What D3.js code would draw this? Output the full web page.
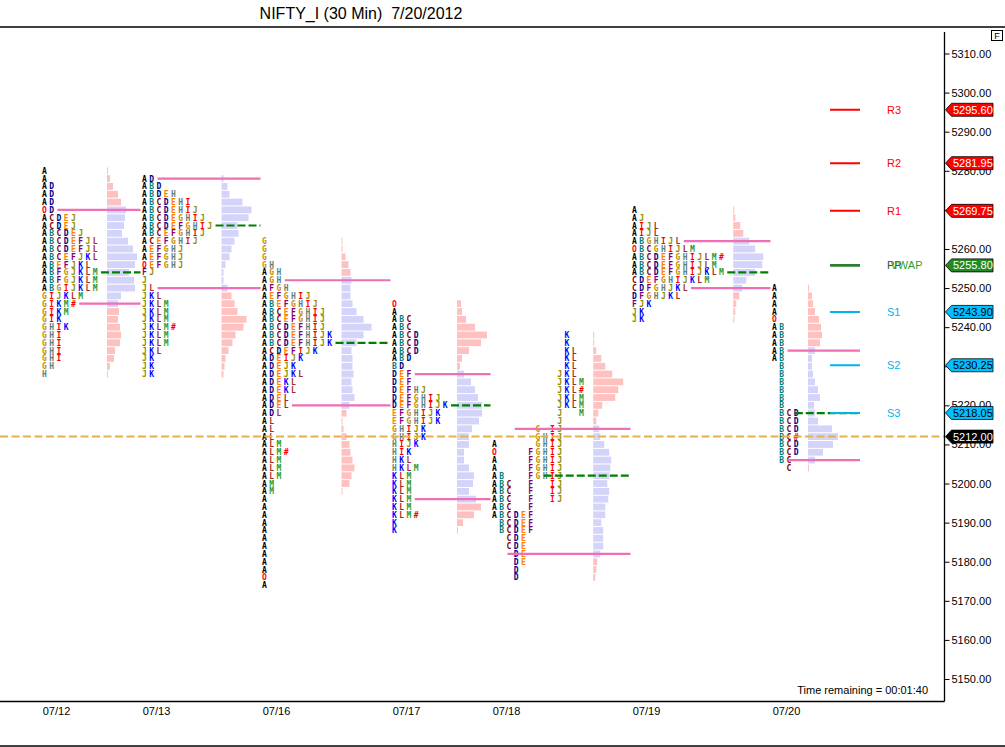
<!DOCTYPE html>
<html><head><meta charset="utf-8">
<script src="https://cdn.jsdelivr.net/npm/d3@7"></script>
<style>html,body{margin:0;padding:0;background:#fff;} svg{display:block;}</style>
</head><body>
<svg id="c" width="1005" height="747"></svg>
<script>
// ---------------- DATA ----------------
const title = "NIFTY_I (30 Min)  7/20/2012";
const days = ["07/12","07/13","07/16","07/17","07/18","07/19","07/20"];
// position of each session on the bar axis (30-min bar index)
const dayStartBar = [0, 10, 22, 35, 45, 59, 73];
const chartEndBar = 81.8;
// highest TPO price of each profile (rows step 2 points downward)
const topPrice = [5280, 5278, 5262, 5246, 5238, 5270, 5250];
const vahPrice = [5270, 5278, 5252, 5228, 5214, 5262, 5234];
const pocPrice = [5254, 5266, 5236, 5220, 5202, 5254, 5218];
const valPrice = [5246, 5250, 5220, 5196, 5182, 5250, 5206];

const tpo0712 = ["A","A","AD","AD","AD","OD","ACDEJ","ACDEJ","ABCDEJ","ABCDEFJL","ABCDEFJL","ABCEFJKL","ABEFJKL","ABFGJKLM","ABFGJKLM","ABGIJKLM","GIJKLM","GIKM#","GIKM","GIK","GHIK","GHI","GHI","GHI","GHI","GH","H"];
const vol0712 = [1,3,6,11,14,19,18,17,15,21,26,30,28,22,27,28,14,11,12,11,13,14,13,8,7,3,1];

const tpo0713 = ["AD","ABD","ABDEH","ABCDEHI","ABCDEHIJ","ABCDEGHIJ","ABCDEFGHIJ","ABCEFGHIJ","ACEFGHIJ","AEFGHJ","AEFGHJ","OEFGHJ","FJ","J","JL","JKL","JKLM","JKLM","JKLM","JKLM#","JKLM","JKLM","JKL","JK","JK","JK"];
const vol0713 = [2,6,8,21,30,27,16,17,13,10,8,4,2,2,6,10,13,16,25,22,14,11,7,4,3,2];

const tpo0716 = ["G","G","G","GH","AGH","AGH","AFGH","AEFGHIJ","ABEFGHIJ","ABCEFGHIJ","ABCEFGHIJ","ABCDEFHIJ","ABCDEFHIJK","ABCDEFHIJK","ACDEFIJK","ADEIJK","ADEJK","ADEJKL","ADEKL","ADEKL","ADEL","ADEL","ADL","AL","AL","AL","ALM","ALM#","ALM","ALM","ALM","AM","AM","A","A","A","A","A","A","A","A","A","A","O","A"];
const vol0716 = [1,1,4,7,9,10,9,9,11,15,22,30,22,15,10,11,11,12,10,11,13,8,5,1,2,5,8,9,11,13,10,8,1,0,0,0,0,0,0,0,0,0,0,0,0];

const tpo0717 = ["O","A","ABC","ABC","ABCD","ABCD","ABCD","ABD","BD","DEF","DEF","DEFHJ","DEFGHIJ","DEFGHIJK","EFGHIJK","EFGHIJK","GHIJK","GHIJK","HIJK","HIK","HKL","HKLM","KLM","KLM","KLM","KLM","KLM","KLM#","K","K"];
const vol0717 = [4,5,9,18,30,24,12,5,3,7,14,18,21,25,25,22,15,12,12,7,7,12,17,16,12,19,24,17,6,1];

const tpo0718 = ["          K","          K","          KL","          KL","          KL","         JKL","         JKLM","         JKL#","         JKLM","         JKLM","         J  M","         J","      G IJ","      GHIJ","A     GHIJ","O    FGHIJ","A    FGHIJ","A    FGHIJ","AB   FGHIJ","ABC  F  IJ","ABC  F  IJ","ABC  F  IJ","ABC  F","ABCDEF"," BCDEF"," BCDEF","  CDE","  CDE","   DE","   DE","   D","   D"];
const vol0718 = [1,1,3,8,12,19,30,25,22,9,5,3,6,7,11,16,18,17,16,14,16,15,12,12,8,10,10,10,7,4,3,2];

const tpo0719 = ["A","AJ","AIJL","AIJL","ABGHIJL","OBCGHIJLM","ABCDEFGHIJLM#","ABCDEFGHIJLM","ABCDEFGHIJKLM","CDEFGHIJKLM","CDFGHJKL","DFGHJKL","FJK","JK","JK"];
const vol0719 = [1,2,7,10,16,22,30,29,22,13,9,6,3,2,1];

const tpo0720 = ["A","A","A","A","O","AB","AB","AB","AB","AB"," B"," B"," B"," B"," B"," B"," BCD"," BCD"," BCD"," BC#"," BCD"," BCD"," BC","  C"];
const vol0720 = [1,4,5,7,11,13,14,12,7,4,4,5,7,10,12,6,7,10,24,30,25,15,7,1];

const levelNames  = ["R3","R2","R1","PP","S1","S2","S3"];
const levelValues = [5295.60, 5281.95, 5269.75, 5255.80, 5243.90, 5230.25, 5218.05];
const vwapLabel = "VWAP";
const lastPrice = 5212.00;
const timeRemaining = "Time remaining = 00:01:40";

// ---------------- BUILD ----------------
const tpoRows = [tpo0712, tpo0713, tpo0716, tpo0717, tpo0718, tpo0719, tpo0720];
const volRows = [vol0712, vol0713, vol0716, vol0717, vol0718, vol0719, vol0720];
const rowStep = 2;

const svg = d3.select("#c");
const W = 1005, H = 747;
const plotRight = 944.5, plotBottom = 701.5, frameTop = 27;
const y = d3.scaleLinear().domain([5150, 5310]).range([679, 53.5]);
const x = d3.scaleLinear().domain([0, 100]).range([42, 1042]);
const colW = 7.25;
const rowPx = Math.abs(y(0) - y(rowStep));

const letterColor = {
  A:"#000000", B:"#008080", C:"#800000", D:"#000080", E:"#FF8000", F:"#800080",
  G:"#C89000", H:"#5F7F7F", I:"#FF0000", J:"#8E8E00", K:"#0000FF", L:"#A52A2A",
  M:"#2E9B2E", O:"#FF0000", "#":"#FF0000"
};
const pinkBar = "#FFC0C0", lavBar = "#D4D4FA", vaLine = "#F06EB4", pocLine = "#008000";

svg.append("rect").attr("width", W).attr("height", H).attr("fill", "#fff");
svg.append("defs").append("clipPath").attr("id", "clip")
  .append("rect").attr("x", 0).attr("y", frameTop + 1).attr("width", plotRight).attr("height", plotBottom - frameTop - 1);

const plot = svg.append("g").attr("clip-path", "url(#clip)");
const gHist = plot.append("g"), gLetters = plot.append("g"), gLines = plot.append("g");

days.forEach((d, i) => {
  const tpo = tpoRows[i], vol = volRows[i], top = topPrice[i];
  const x0 = x(dayStartBar[i]);
  const x1 = i < days.length - 1 ? x(dayStartBar[i + 1]) - 1.5 : x(chartEndBar);
  const maxCols = d3.max(tpo, s => s.length);
  const hx = x0 + maxCols * colW + 7;
  const vs = d3.scaleLinear().domain([0, d3.max(vol)]).range([0, 30]);

  // volume histogram
  gHist.selectAll(null).data(vol.map((v, r) => ({v, p: top - r * rowStep})).filter(o => o.v > 0))
    .enter().append("rect")
    .attr("x", hx)
    .attr("y", o => y(o.p) - (rowPx - 1) / 2)
    .attr("width", o => vs(o.v))
    .attr("height", rowPx - 1)
    .attr("fill", o => (o.p <= vahPrice[i] && o.p >= valPrice[i]) ? lavBar : pinkBar);

  // TPO letters
  const cells = [];
  tpo.forEach((s, r) => {
    [...s].forEach((ch, c) => { if (ch !== " ") cells.push({ch, c, p: top - r * rowStep}); });
  });
  gLetters.selectAll(null).data(cells).enter().append("text")
    .attr("x", o => x0 + o.c * colW)
    .attr("y", o => y(o.p) + 3)
    .attr("font-family", "DejaVu Sans Mono, monospace")
    .attr("font-weight", "bold")
    .attr("font-size", "8px")
    .attr("fill", o => letterColor[o.ch] || "#000")
    .text(o => o.ch);

  // value area & POC lines
  const startX = p => {
    const r = Math.round((top - p) / rowStep);
    const n = (tpo[r] || "").replace(/ /g, "").length;
    return x0 + n * colW + 1;
  };
  [[vahPrice[i], vaLine, null], [valPrice[i], vaLine, null], [pocPrice[i], pocLine, "8,3"]].forEach(([p, col, dash]) => {
    gLines.append("line")
      .attr("x1", startX(p)).attr("x2", x1)
      .attr("y1", y(p)).attr("y2", y(p))
      .attr("stroke", col).attr("stroke-width", 2.2)
      .attr("stroke-dasharray", dash);
  });
});

// last price dashed line
gLines.append("line")
  .attr("x1", 0).attr("x2", plotRight).attr("y1", y(lastPrice)).attr("y2", y(lastPrice))
  .attr("stroke", "#E8B048").attr("stroke-width", 2).attr("stroke-dasharray", "8,3.5");

// pivot levels
const levelColor = n => n[0] === "R" ? "#FF0000" : n[0] === "S" ? "#00B4F0" : "#2E7D32";
const lx1 = x(chartEndBar) - 30, lx2 = x(chartEndBar), labX = x(chartEndBar) + 27;
levelNames.forEach((n, k) => {
  const v = levelValues[k];
  plot.append("line").attr("x1", lx1).attr("x2", lx2).attr("y1", y(v)).attr("y2", y(v))
    .attr("stroke", levelColor(n)).attr("stroke-width", n === "PP" ? 2.6 : 2);
  plot.append("text").attr("x", labX).attr("y", y(v) + 4)
    .attr("font-family", "Liberation Sans, Arial, sans-serif").attr("font-size", "11px")
    .attr("fill", n === "PP" ? "#2F4F2F" : levelColor(n)).text(n);
  if (n === "PP") {
    plot.append("text").attr("x", labX + 3.5).attr("y", y(v) + 4)
      .attr("font-family", "Liberation Sans, Arial, sans-serif").attr("font-size", "11px")
      .attr("fill", "#2EA02E").text(vwapLabel);
  }
});

// frame lines
svg.append("line").attr("x1", 0).attr("x2", W).attr("y1", frameTop).attr("y2", frameTop).attr("stroke", "#000").attr("stroke-width", 1.3);
svg.append("line").attr("x1", 0).attr("x2", plotRight).attr("y1", plotBottom).attr("y2", plotBottom).attr("stroke", "#000").attr("stroke-width", 1.3);
svg.append("line").attr("x1", plotRight).attr("x2", plotRight).attr("y1", 32).attr("y2", plotBottom).attr("stroke", "#000").attr("stroke-width", 1.3);
svg.append("line").attr("x1", 0).attr("x2", W).attr("y1", 746).attr("y2", 746).attr("stroke", "#000").attr("stroke-width", 1.3);

// right price axis
const yAxis = d3.axisRight(y).tickValues(d3.range(5150, 5311, 10)).tickSize(5).tickPadding(2).tickFormat(d3.format(".2f"));
const ga = svg.append("g").attr("transform", `translate(${plotRight},0)`).call(yAxis);
ga.select(".domain").remove();
ga.selectAll("text").attr("font-family", "Liberation Sans, Arial, sans-serif").attr("font-size", "11px").attr("fill", "#000");
ga.selectAll("line").attr("stroke", "#000");

// price tags
const tag = (v, fill, textFill) => {
  const yc = y(v), h = 6.5;
  svg.append("path")
    .attr("d", `M${plotRight + 1},${yc} L${plotRight + 7},${yc - h} L993,${yc - h} L993,${yc + h} L${plotRight + 7},${yc + h} Z`)
    .attr("fill", fill).attr("stroke", "#000").attr("stroke-width", 0.8);
  svg.append("text").attr("x", 953).attr("y", yc + 4)
    .attr("font-family", "Liberation Sans, Arial, sans-serif").attr("font-size", "11px")
    .attr("fill", textFill).text(d3.format(".2f")(v));
};
levelNames.forEach((n, k) => {
  if (n[0] === "R") tag(levelValues[k], "#FF0000", "#fff");
  else if (n[0] === "S") tag(levelValues[k], "#00BFFF", "#000");
  else tag(levelValues[k], "#228B22", "#fff");
});
tag(lastPrice, "#000", "#fff");

// date labels
svg.selectAll(null).data(days).enter().append("text")
  .attr("x", (d, i) => x(dayStartBar[i]) + 14.5).attr("y", 715)
  .attr("text-anchor", "middle")
  .attr("font-family", "Liberation Sans, Arial, sans-serif").attr("font-size", "11px").attr("fill", "#000")
  .text(d => d);

// title
svg.append("text").attr("x", 361).attr("y", 19).attr("text-anchor", "middle")
  .attr("font-family", "Liberation Sans, Arial, sans-serif").attr("font-size", "16px").attr("fill", "#000")
  .style("white-space", "pre")
  .text(title);

// time remaining
svg.append("text").attr("x", 928).attr("y", 694).attr("text-anchor", "end")
  .attr("font-family", "Liberation Sans, Arial, sans-serif").attr("font-size", "11px").attr("fill", "#000")
  .text(timeRemaining);

// F box
svg.append("rect").attr("x", 991.5).attr("y", 30.5).attr("width", 11).attr("height", 10).attr("fill", "#fff").attr("stroke", "#000");
svg.append("text").attr("x", 997).attr("y", 39).attr("text-anchor", "middle")
  .attr("font-family", "Liberation Sans, Arial, sans-serif").attr("font-size", "9px").text("F");
</script>
</body></html>
